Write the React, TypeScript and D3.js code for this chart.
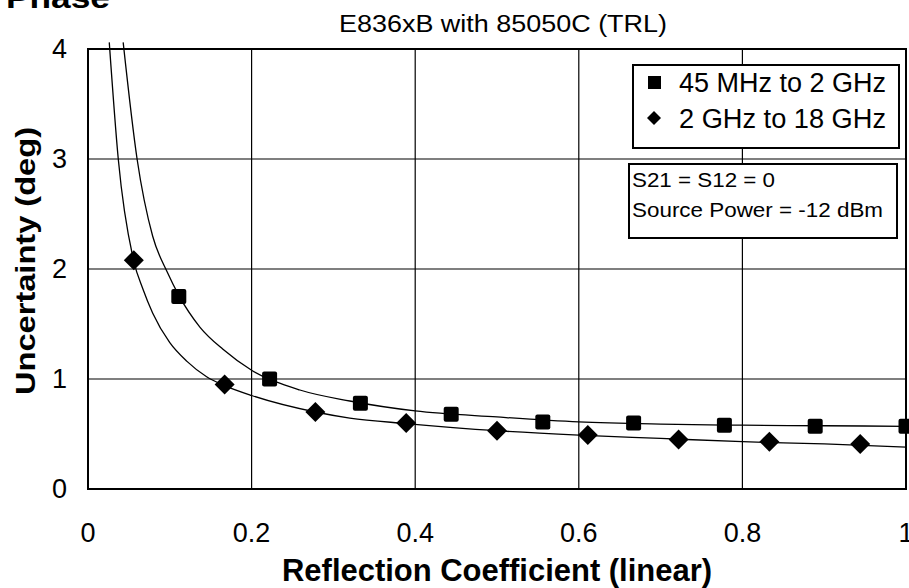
import React from "react";
import * as d3 from "d3";

const xTicks = [0, 0.2, 0.4, 0.6, 0.8, 1];
const xTickLabels = ["0", "0.2", "0.4", "0.6", "0.8", "1"];
const yTicks = [0, 1, 2, 3, 4];
const yTickLabels = ["0", "1", "2", "3", "4"];

const lowBandX = [0.111, 0.222, 0.333, 0.444, 0.556, 0.667, 0.778, 0.889, 1.0];
const lowBandY = [1.75, 1.0, 0.78, 0.68, 0.61, 0.6, 0.58, 0.57, 0.57];
const highBandX = [0.056, 0.167, 0.278, 0.389, 0.5, 0.611, 0.722, 0.833, 0.944];
const highBandY = [2.08, 0.95, 0.7, 0.6, 0.53, 0.49, 0.45, 0.43, 0.41];

const lowCurveX = [0.043, 0.06, 0.079, 0.097, 0.111, 0.137, 0.165, 0.2, 0.259, 0.32, 0.4, 0.5, 0.6, 0.7, 0.8, 0.9, 1.0];
const lowCurveY = [4.06, 3.0, 2.3, 1.97, 1.76, 1.47, 1.27, 1.08, 0.9, 0.8, 0.71, 0.655, 0.61, 0.59, 0.58, 0.575, 0.57];
const highCurveX = [0.026, 0.037, 0.056, 0.067, 0.079, 0.1, 0.121, 0.145, 0.167, 0.2, 0.278, 0.32, 0.389, 0.5, 0.6, 0.7, 0.8, 0.9, 1.0];
const highCurveY = [4.06, 3.0, 2.07, 1.82, 1.6, 1.33, 1.16, 1.02, 0.94, 0.85, 0.7, 0.645, 0.595, 0.53, 0.49, 0.46, 0.43, 0.41, 0.38];

const legendLabels = ["45 MHz to 2 GHz", "2 GHz to 18 GHz"];
const noteLines = ["S21 = S12 = 0", "Source Power = -12 dBm"];

const FONT = "'Liberation Sans', Arial, sans-serif";

export default function App() {
  const W = 909;
  const H = 588;
  const x = d3.scaleLinear().domain([0, 1]).range([88, 906]);
  const y = d3.scaleLinear().domain([0, 4]).range([489, 49]);

  const line = d3
    .line<[number, number]>()
    .x((d) => x(d[0]))
    .y((d) => y(d[1]))
    .curve(d3.curveMonotoneX);

  const lowCurve = line(lowCurveX.map((v, i) => [v, lowCurveY[i]]) as [number, number][]) || "";
  const highCurve = line(highCurveX.map((v, i) => [v, highCurveY[i]]) as [number, number][]) || "";

  const sq = 15;
  const dm = 10;
  const diamond = (cx: number, cy: number, r: number) =>
    `M${cx},${cy - r}L${cx + r},${cy}L${cx},${cy + r}L${cx - r},${cy}Z`;

  return (
    <svg
      width={W}
      height={H}
      style={{ position: "absolute", left: 0, top: 0, background: "#fff" }}
      fontFamily={FONT}
    >
      <rect x={0} y={0} width={W} height={H} fill="#fff" />
      <text x={6} y={8} fontSize={30} fontWeight="bold" fill="#000" textLength={104} lengthAdjust="spacingAndGlyphs">
        Phase
      </text>
      <text x={503} y={32} fontSize={23} textAnchor="middle" fill="#000" textLength={328} lengthAdjust="spacingAndGlyphs">
        E836xB with 85050C (TRL)
      </text>

      {xTicks.slice(1, -1).map((t) => (
        <line key={"gx" + t} x1={x(t)} x2={x(t)} y1={y(0)} y2={y(4)} stroke="#000" strokeWidth={1.2} />
      ))}
      {yTicks.slice(1, -1).map((t) => (
        <line key={"gy" + t} x1={x(0)} x2={x(1)} y1={y(t)} y2={y(t)} stroke="#000" strokeWidth={1.2} />
      ))}
      <rect x={x(0)} y={y(4)} width={x(1) - x(0)} height={y(0) - y(4)} fill="none" stroke="#000" strokeWidth={2} />

      {yTicks.map((t, i) => (
        <text key={"yl" + t} x={67} y={y(t) + 9} fontSize={27} textAnchor="end" fill="#000">
          {yTickLabels[i]}
        </text>
      ))}
      {xTicks.map((t, i) => (
        <text key={"xl" + t} x={x(t)} y={542} fontSize={27} textAnchor="middle" fill="#000">
          {xTickLabels[i]}
        </text>
      ))}

      <text x={497} y={581} fontSize={31} fontWeight="bold" textAnchor="middle" fill="#000" textLength={430} lengthAdjust="spacingAndGlyphs">
        Reflection Coefficient (linear)
      </text>
      <text
        transform={`translate(35,261) rotate(-90)`}
        fontSize={28}
        fontWeight="bold"
        textAnchor="middle"
        fill="#000"
        textLength={268}
        lengthAdjust="spacingAndGlyphs"
      >
        Uncertainty (deg)
      </text>

      <path d={lowCurve} fill="none" stroke="#000" strokeWidth={1.3} />
      <path d={highCurve} fill="none" stroke="#000" strokeWidth={1.3} />

      {lowBandX.map((v, i) => (
        <rect
          key={"s" + i}
          x={x(v) - sq / 2}
          y={y(lowBandY[i]) - sq / 2}
          width={sq}
          height={sq}
          rx={2}
          fill="#000"
        />
      ))}
      {highBandX.map((v, i) => (
        <path key={"d" + i} d={diamond(x(v), y(highBandY[i]), dm)} fill="#000" />
      ))}

      <rect x={633} y={65} width={266} height={83} fill="#fff" stroke="#000" strokeWidth={2} />
      <rect x={648} y={76} width={13} height={13} fill="#000" />
      <path d={diamond(654, 118, 7)} fill="#000" />
      <text x={679} y={92} fontSize={27} fill="#000" textLength={207} lengthAdjust="spacingAndGlyphs">
        {legendLabels[0]}
      </text>
      <text x={679} y={128} fontSize={27} fill="#000" textLength={207} lengthAdjust="spacingAndGlyphs">
        {legendLabels[1]}
      </text>

      <rect x={629} y={164} width={268} height={74} fill="#fff" stroke="#000" strokeWidth={2} />
      <text x={632} y={187} fontSize={20} fill="#000" textLength={143} lengthAdjust="spacingAndGlyphs">
        {noteLines[0]}
      </text>
      <text x={632} y={217} fontSize={20} fill="#000" textLength={251} lengthAdjust="spacingAndGlyphs">
        {noteLines[1]}
      </text>
    </svg>
  );
}
